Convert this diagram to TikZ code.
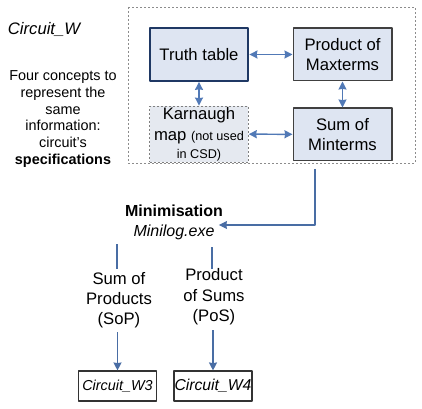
\documentclass[tikz,border=0pt]{standalone}
\usepackage{fontspec}
\setmainfont{Liberation Sans}
\usetikzlibrary{arrows.meta}
\definecolor{boxfill}{HTML}{DEE5F2}
\definecolor{mapfill}{HTML}{E5E9F0}
\definecolor{navy}{HTML}{1F3864}
\definecolor{arrowblue}{HTML}{5179B6}
\begin{document}
\begin{tikzpicture}[x=0.75pt, y=-0.75pt, font=\fontsize{12.5}{15.5}\selectfont, line join=round, >={Stealth[length=6pt, width=6pt, inset=0.5pt]},
	concept/.style={draw=black!75, line width=1pt, fill=boxfill, minimum width=74pt, minimum height=39.5pt, align=center, inner sep=1pt},
	link/.style={<->, arrowblue, line width=1.1pt},
	flow/.style={arrowblue!90!black, line width=0.9pt},
	result/.style={draw=black!80, line width=0.8pt, fill=white, minimum width=58.5pt, minimum height=22.5pt, inner sep=0pt}]
	\useasboundingbox (0,0) rectangle (422,409);
	\draw[black!45, dashed, dash pattern=on 1.5pt off 1.5pt] (128,7) rectangle (415,163);
	\node (cw) at (44,29) {\itshape Circuit\_W};
	\node[align=center, font=\fontsize{10.8}{12.5}\selectfont] (four) at (63,119) {Four concepts to\\represent the\\same\\information:\\circuit's\\\textbf{specifications}};
	\node[concept, draw=navy, line width=1.6pt] (truth) at (199,54.5) {Truth table};
	\node[concept] (pom) at (342.5,54.5) {Product of\\Maxterms};
	\node[concept, draw=black!50, dashed, dash pattern=on 1.5pt off 1.5pt, line width=0.6pt, fill=mapfill] (kmap) at (199,134) {Karnaugh\\map {\fontsize{9.5}{11}\selectfont(not used}\\[-2pt]{\fontsize{9.5}{11}\selectfont in CSD)}};
	\node[concept] (som) at (342.5,134.5) {Sum of\\Minterms};
	\draw[link] (truth) -- (pom);
	\draw[link] (truth) -- (kmap);
	\draw[link] (pom) -- (som);
	\draw[link] (kmap) -- (som);
	% minimisation step
	\node[align=center, font=\fontsize{12}{15}\selectfont] (mini) at (174,222) {\textbf{Minimisation}\\\itshape Minilog.exe};
	\coordinate (minbot) at (315,169);
	\draw[flow, ->] (minbot) |- ([xshift=-6.5pt, yshift=-2.25pt]mini.east);
	\node[align=center, font=\fontsize{12.5}{15}\selectfont] (sop) at (119,300) {Sum of\\Products\\(SoP)};
	\node[align=center, font=\fontsize{12.5}{15.5}\selectfont] (pos) at (214,297) {Product\\of Sums\\(PoS)};
	\node[result] (w3) at (117.5,386) {\fontsize{10.8}{12}\selectfont\itshape Circuit\_W3};
	\node[result] (w4) at (213,386) {\fontsize{11.8}{12}\selectfont\itshape Circuit\_W4};
	\draw[flow] ([xshift=-1.5pt, yshift=-1pt]sop.north) -- ([xshift=-1.5pt, yshift=0pt]sop.north |- mini.south);
	\draw[flow] ([xshift=-1.5pt, yshift=-4pt]pos.north) -- ([xshift=-1.5pt, yshift=-2pt]pos.north |- mini.south);
	\draw[flow, ->] (sop.south -| w3.north) -- (w3.north);
	\draw[flow, ->] (pos.south -| w4.north) -- (w4.north);
\end{tikzpicture}
\end{document}
